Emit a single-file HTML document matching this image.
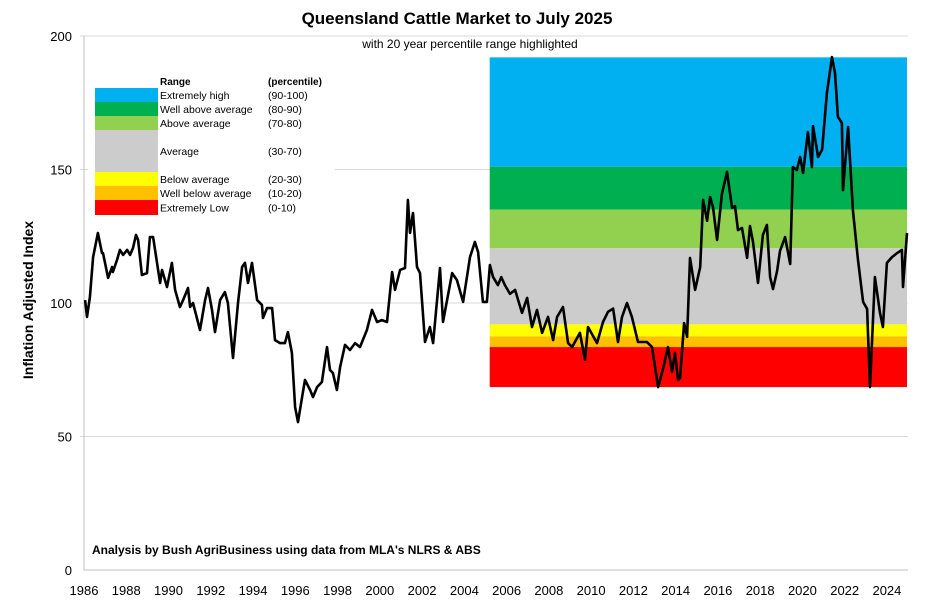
<!DOCTYPE html>
<html><head><meta charset="utf-8"><style>
body{margin:0;background:#fff;}
svg{display:block;font-family:"Liberation Sans",sans-serif;}
</style></head><body>
<svg id="chart" width="943" height="616">
<text x="457" y="24" text-anchor="middle" font-size="17" font-weight="bold">Queensland Cattle Market to July 2025</text>
<text x="470" y="48" text-anchor="middle" font-size="12">with 20 year percentile range highlighted</text>
<text transform="translate(33,300) rotate(-90)" text-anchor="middle" font-size="14" font-weight="bold">Inflation Adjusted Index</text>
<g id="grid"></g><g id="bands"></g><g id="legend"></g><g id="axes"></g><g id="series"></g>
<text x="92" y="554" font-size="12" font-weight="bold">Analysis by Bush AgriBusiness using data from MLA's NLRS &amp; ABS</text>
</svg>
<script>
const xTicks=[1986,1988,1990,1992,1994,1996,1998,2000,2002,2004,2006,2008,2010,2012,2014,2016,2018,2020,2022,2024];
const yTicks=[0,50,100,150,200];
const bandEdges=[192,151,135,120.5,92,87.5,83.5,68.5];
const bandColors=["#00b0f0","#00b050","#92d050","#cccccc","#ffff00","#ffc000","#ff0000"];
const bandStart=2005.2, bandEnd=2024.95;
const bandLabels=["Extremely high","Well above average","Above average","Average","Below average","Well below average","Extremely Low"];
const bandPct=["(90-100)","(80-90)","(70-80)","(30-70)","(20-30)","(10-20)","(0-10)"];
const years=[1986.05,1986.14,1986.28,1986.43,1986.66,1986.85,1986.9,1987.14,1987.33,1987.37,1987.56,1987.70,1987.85,1988.04,1988.18,1988.32,1988.46,1988.56,1988.74,1988.98,1989.12,1989.27,1989.60,1989.69,1989.93,1990.16,1990.31,1990.54,1990.69,1990.92,1991.02,1991.16,1991.49,1991.73,1991.87,1992.06,1992.20,1992.44,1992.67,1992.81,1993.05,1993.29,1993.48,1993.62,1993.76,1993.95,1994.19,1994.42,1994.47,1994.66,1994.90,1995.04,1995.28,1995.51,1995.65,1995.84,1995.99,1996.13,1996.32,1996.46,1996.70,1996.84,1997.03,1997.26,1997.50,1997.64,1997.78,1997.97,1998.12,1998.35,1998.59,1998.83,1999.06,1999.39,1999.63,1999.87,2000.10,2000.34,2000.58,2000.72,2000.96,2001.19,2001.33,2001.43,2001.57,2001.76,2001.90,2002.14,2002.37,2002.52,2002.85,2002.99,2003.42,2003.65,2003.94,2004.27,2004.50,2004.65,2004.88,2005.07,2005.21,2005.36,2005.59,2005.75,2005.92,2006.16,2006.40,2006.73,2006.97,2007.20,2007.44,2007.68,2007.96,2008.20,2008.39,2008.67,2008.91,2009.10,2009.47,2009.71,2009.85,2010.28,2010.56,2010.80,2011.04,2011.27,2011.46,2011.70,2011.93,2012.22,2012.64,2012.88,2013.17,2013.40,2013.64,2013.83,2013.97,2014.11,2014.21,2014.40,2014.54,2014.68,2014.92,2015.16,2015.30,2015.49,2015.63,2015.77,2015.96,2016.19,2016.43,2016.67,2016.81,2016.95,2017.14,2017.38,2017.52,2017.66,2017.90,2018.13,2018.32,2018.47,2018.61,2018.80,2018.94,2019.18,2019.42,2019.55,2019.74,2019.89,2020.03,2020.26,2020.45,2020.50,2020.74,2020.93,2021.16,2021.40,2021.54,2021.68,2021.87,2021.92,2022.16,2022.39,2022.63,2022.87,2023.06,2023.20,2023.43,2023.67,2023.81,2024.00,2024.24,2024.48,2024.71,2024.76,2024.95];
const values=[101.1,94.8,102.2,117.2,126.2,118.7,118.7,109.4,113.5,111.6,116.1,119.9,118.0,119.9,118.0,120.6,125.5,123.6,110.5,111.2,124.7,124.7,107.5,112.4,106.0,115.0,104.9,98.5,101.1,105.6,98.5,100.0,89.9,101.1,105.6,97.4,89.1,101.1,104.1,100.0,79.4,100.0,113.5,115.0,107.5,115.0,101.1,99.3,94.4,98.1,98.1,86.1,85.0,85.0,89.1,81.3,61.0,55.4,64.8,71.2,67.4,64.8,68.5,70.4,83.5,74.9,73.8,67.4,76.0,84.3,82.4,85.0,83.5,89.9,97.4,92.9,93.6,92.9,111.6,104.9,112.4,113.1,138.6,126.2,133.7,113.5,111.2,85.4,91.0,85.0,113.1,92.9,111.2,108.6,100.4,117.2,122.9,119.1,100.4,100.4,114.2,109.7,106.7,109.7,106.7,103.4,104.9,96.3,101.9,91.0,97.4,88.8,94.8,86.1,94.8,98.5,85.0,83.5,88.8,78.7,91.0,85.0,92.9,96.7,97.9,85.4,94.8,100.0,94.8,85.4,85.4,83.5,68.5,75.3,83.5,74.2,81.3,71.2,71.9,92.5,87.3,116.9,104.9,113.5,138.6,130.8,139.7,135.9,123.6,140.8,149.1,135.6,136.3,127.3,128.1,116.9,128.8,122.9,107.5,125.5,129.2,109.7,105.2,112.0,119.5,124.7,114.6,150.9,149.8,154.7,148.7,164.0,150.9,166.3,154.7,157.4,178.7,192.1,186.1,169.7,167.4,142.3,165.9,134.8,116.1,100.4,97.8,68.5,109.7,96.3,91.0,115.0,117.2,118.7,119.9,106.0,126.2];
const X=y=>84+(y-1986)*21.13, Y=v=>570-v*2.67;
const NS="http://www.w3.org/2000/svg";
function mk(tag,parent,attrs){const e=document.createElementNS(NS,tag);for(const k in attrs)e.setAttribute(k,attrs[k]);document.getElementById(parent).appendChild(e);return e;}
yTicks.forEach(t=>{
  if(t>0){const l=mk('line','grid',{x1:80,x2:908,y1:Y(t),y2:Y(t),stroke:'#d9d9d9','stroke-width':1});
  
  }
  const tx=mk('text','axes',{x:72,y:Y(t)+5,'text-anchor':'end','font-size':13});tx.textContent=t;
  
  
});
xTicks.forEach(t=>{
  const tx=mk('text','axes',{x:X(t),y:595,'text-anchor':'middle','font-size':13});tx.textContent=t;
  
  
});
const ax=mk('path','axes',{d:`M84 36V570H908`,fill:'none',stroke:'#bfbfbf','stroke-width':1});


bandColors.forEach((c,i)=>{
  const r=mk('rect','bands',{x:X(bandStart),width:X(bandEnd)-X(bandStart),y:Y(bandEdges[i]),height:Y(bandEdges[i+1])-Y(bandEdges[i]),fill:c});
  
  
});
const lb=mk('rect','legend',{x:88,y:62,width:247,height:156,fill:'#fff'});


const rowTops=[88,102,116,130,172,186,200], rowBots=[102,116,130,172,186,200,215];
let h=mk('text','legend',{x:160,y:85,'font-size':10,'font-weight':'bold'});h.textContent='Range';


h=mk('text','legend',{x:268,y:85,'font-size':10,'font-weight':'bold'});h.textContent='(percentile)';


bandColors.forEach((c,i)=>{
  const s=mk('rect','legend',{x:95,y:rowTops[i],width:63,height:rowBots[i]-rowTops[i],fill:c});
  
  
  const cy=(rowTops[i]+rowBots[i])/2+4;
  const a=mk('text','legend',{x:160,y:cy,'font-size':10.5});a.textContent=bandLabels[i];
  
  
  const b=mk('text','legend',{x:268,y:cy,'font-size':10.5});b.textContent=bandPct[i];
  
  
});
const d=years.map((y,i)=>(i?'L':'M')+X(y).toFixed(1)+' '+Y(values[i]).toFixed(1)).join('');
const ln=mk('path','series',{d:d,fill:'none',stroke:'#000','stroke-width':2.6,'stroke-linejoin':'round'});


</script>
</body></html>
